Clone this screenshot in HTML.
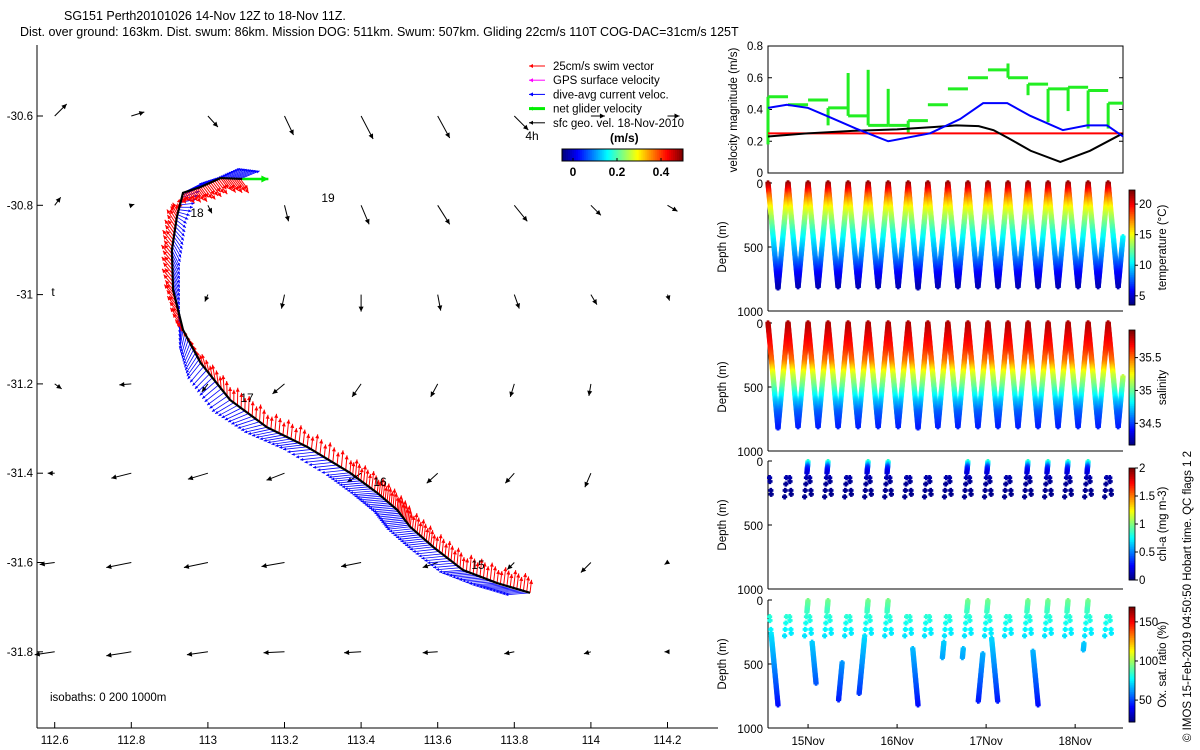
<!DOCTYPE html>
<html><head><meta charset="utf-8"><style>
body{margin:0;background:#fff}
svg{display:block;font-family:"Liberation Sans",sans-serif}
</style></head><body>
<svg id="s" width="1200" height="750" viewBox="0 0 1200 750">
<text x="64" y="20" font-size="12.5">SG151 Perth20101026 14-Nov 12Z to 18-Nov 11Z.</text>
<text x="20" y="36" font-size="12.5">Dist. over ground: 163km. Dist. swum: 86km. Mission DOG: 511km. Swum: 507km. Gliding 22cm/s 110T COG-DAC=31cm/s 125T</text>
<g id="map"></g>
<g id="right"></g>
<text transform="translate(1191,742) rotate(-90)" font-size="11.5">© IMOS 15-Feb-2019 04:50:50 Hobart time. QC flags 1  2</text>
</svg>
<script>
// ---------- MAP DATA ----------
const lonTicks=[112.6,112.8,113,113.2,113.4,113.6,113.8,114,114.2];
const latTicks=[-30.6,-30.8,-31,-31.2,-31.4,-31.6,-31.8];
const trackLon=[113.841,113.755,113.666,113.588,113.528,113.494,113.442,113.371,113.259,113.154,113.058,112.981,112.935,112.909,112.906,112.919,112.935,112.981,113.033,113.090];
const trackLat=[-31.668,-31.646,-31.617,-31.565,-31.520,-31.482,-31.444,-31.399,-31.341,-31.297,-31.236,-31.153,-31.079,-30.989,-30.900,-30.826,-30.772,-30.759,-30.739,-30.741];
const curU=[-0.38,-0.38,-0.37,-0.36,-0.36,-0.37,-0.38,-0.37,-0.37,-0.35,-0.28,-0.2,-0.05,0.1,0.12,0.15,0.3,0.3,0.3,0.3];
const curV=[-0.03,-0.03,-0.03,-0.04,-0.04,-0.03,-0.03,-0.04,-0.04,-0.08,-0.18,-0.25,-0.3,-0.3,-0.25,-0.1,0.15,0.15,0.15,0.12];
const swimU=[0.03,0.03,0.02,0.03,0.03,0.02,0.03,0.02,0.03,0.02,0.0,-0.08,-0.15,-0.15,-0.15,-0.12,0.1,0.15,0.15,0.15];
const swimV=[0.25,0.25,0.25,0.24,0.25,0.25,0.25,0.24,0.25,0.24,0.25,0.22,0.2,0.18,0.18,0.2,-0.15,-0.2,-0.2,-0.2];
const geoLat=[-30.6,-30.8,-31,-31.2,-31.4,-31.6,-31.8];
const geoLon=[112.6,112.8,113,113.2,113.4,113.6,113.8,114,114.2];
const geoU=[[12,13,10,9,12,12,14,14,12],[6,3,4,4,8,12,13,10,10],[1,1,-3,-3,0,3,5,6,2],[7,-12,-6,-12,-9,-7,-4,-2,0],[-7,-20,-20,-18,-14,-11,-9,-6,0],[-15,-25,-24,-23,-20,-15,-7,-10,-3],[-20,-25,-21,-21,-17,-15,-10,-7,-3]];
const geoV=[[12,4,-11,-19,-23,-22,-14,0,0],[8,1,-8,-16,-19,-19,-16,-10,-6],[0,0,-7,-14,-17,-16,-14,-10,-6],[-5,-1,-8,-10,-13,-13,-13,-12,0],[0,-5,-6,-7,-9,-10,-10,-14,0],[-2,-5,-5,-4,-4,-5,-7,-10,-2],[-3,-4,-3,-1,-1,-1,-2,-2,0]];
const cbTicks=[0,0.2,0.4];
// ---------- TIMESERIES DATA ----------
const diveStart=[13.2,18.6,24.0,29.4,34.8,40.2,45.6,51.0,56.3,61.7,67.1,72.5,77.9,83.3,88.7,94.1,99.5,104.9];
const diveMaxDepth=[820,815,815,818,812,815,812,822,818,815,818,815,812,818,812,815,815,812];
const greenVals=[0.48,0.43,0.46,0.41,0.36,0.30,0.30,0.33,0.43,0.53,0.60,0.65,0.60,0.56,0.53,0.54,0.52,0.44];
const greenSpike=[0.18,0.43,0.46,0.30,0.63,0.65,0.53,0.25,0.43,0.53,0.60,0.65,0.69,0.49,0.32,0.39,0.28,0.28];
const blackH=[13.2,24,36,48,58,64,70,74,78,84,92,100,108.9];
const blackV=[0.23,0.25,0.265,0.275,0.29,0.30,0.295,0.27,0.22,0.14,0.07,0.14,0.25];
const blueH=[13.2,18.3,24,30,36.9,45.6,56.9,65,71.2,77.7,83.9,92.7,99.2,104.6,108.9];
const blueV=[0.41,0.43,0.41,0.35,0.28,0.20,0.25,0.34,0.44,0.44,0.36,0.27,0.30,0.30,0.23];
const swimSpeed=[0.25];
const tempDepth=[0,50,100,150,200,300,400,500,600,700,850];
const tempVal=[22,20,18,16.5,15,13,11,9.5,8,6,4];
const salDepth=[0,100,200,300,400,500,600,700,850];
const salVal=[35.85,35.75,35.65,35.5,35.2,35.0,34.75,34.55,34.4];
const chlDepth=[0,50,100,150,300];
const chlVal=[0.9,0.35,0.15,0.05,0.02];
const sparseDepths=[130,180,230,280];
const denseDives=[1,2,4,5,9,10,12,13,14,15,17];
const oxDepth=[0,100,200,300,500,700,850];
const oxVal=[95,85,78,72,62,50,40];
const oxDeepDive=[0,2,3,4,7,8,9,10,11,13,15];
const oxDeepPhase=[0,0,1,1,0,1,1,1,0,0,1];
const oxDeepTop=[280,330,490,300,380,330,380,420,300,400,340];
const oxDeepBot=[820,650,780,730,820,450,450,790,790,820,390];
const dayTicks=[24,48,72,96];
const dayLabels=['15Nov','16Nov','17Nov','18Nov'];

const NS='http://www.w3.org/2000/svg';
function el(tag,attrs,parent){const e=document.createElementNS(NS,tag);for(const k in attrs)e.setAttribute(k,attrs[k]);parent.appendChild(e);return e;}
function jet(t){t=Math.max(0,Math.min(1,t));const c=v=>Math.round(255*Math.max(0,Math.min(1,1.5-Math.abs(v))));return `rgb(${c(4*t-3)},${c(4*t-2)},${c(4*t-1)})`;}
function interp(xs,ys,x){if(x<=xs[0])return ys[0];for(let i=1;i<xs.length;i++){if(x<=xs[i]){const f=(x-xs[i-1])/(xs[i]-xs[i-1]);return ys[i-1]+f*(ys[i]-ys[i-1]);}}return ys[ys.length-1];}

// ---------- MAP ----------
const map=document.getElementById('map');
const X=lon=>54.7+(lon-112.6)*383;
const Y=lat=>116+(-30.6-lat)*446.5;
el('line',{x1:37,y1:45,x2:37,y2:728,stroke:'#000'},map);
el('line',{x1:37,y1:728,x2:718,y2:728,stroke:'#000'},map);
lonTicks.forEach(v=>{const x=X(v);el('line',{x1:x,y1:728,x2:x,y2:722,stroke:'#000'},map);
 const t=el('text',{x:x,y:744,'font-size':11.5,'text-anchor':'middle'},map);t.textContent=String(v);
 });
latTicks.forEach(v=>{const y=Y(v);el('line',{x1:37,y1:y,x2:43,y2:y,stroke:'#000'},map);
 const t=el('text',{x:33,y:y+4,'font-size':11.5,'text-anchor':'end'},map);t.textContent=String(v);
 });
function arrow(g,x1,y1,x2,y2,col,w,h){el('line',{x1,y1,x2,y2,stroke:col,'stroke-width':w},g);
 const dx=x2-x1,dy=y2-y1,L=Math.hypot(dx,dy)||1,ux=dx/L,uy=dy/L;
 el('polygon',{points:`${x2},${y2} ${x2-ux*h-uy*h*0.5},${y2-uy*h+ux*h*0.5} ${x2-ux*h+uy*h*0.5},${y2-uy*h-ux*h*0.5}`,fill:col},g);}
const geo=el('g',{},map);
geoLat.forEach((la,i)=>geoLon.forEach((lo,j)=>{const u=geoU[i][j],v=geoV[i][j];if(Math.hypot(u,v)<1.5)return;
 const x=X(lo),y=Y(la);arrow(geo,x,y,x+u,y-v,'#000',1,5);}));
const blue=el('g',{},map);
const red=el('g',{},map);
const S=65,sub=10;
for(let i=0;i<trackLon.length-1;i++){for(let k=0;k<sub;k++){const f=k/sub;
 const lo=trackLon[i]+f*(trackLon[i+1]-trackLon[i]),la=trackLat[i]+f*(trackLat[i+1]-trackLat[i]);
 const cu=curU[i]+f*(curU[i+1]-curU[i]),cv=curV[i]+f*(curV[i+1]-curV[i]);
 const su=swimU[i]+f*(swimU[i+1]-swimU[i]),sv=swimV[i]+f*(swimV[i+1]-swimV[i]);
 const x=X(lo),y=Y(la);
 arrow(blue,x,y,x+cu*S,y-cv*S,'#0000ff',0.8,3);
 const m=0.8+0.3*(k%3)/2;
 arrow(red,x,y,x+su*S*m,y-sv*S*m,'#ff0000',1,4);}}
const tr=el('polyline',{points:trackLon.map((l,i)=>X(l)+','+Y(trackLat[i])).join(' '),fill:'none',stroke:'#000','stroke-width':2.2},map);

const n=trackLon.length-1;
const ga=el('g',{},map);
arrow(ga,X(trackLon[n]),Y(trackLat[n]),X(trackLon[n])+26,Y(trackLat[n]),'#00ee00',2.5,7);
[['18',197,217],['19',328,202],['17',247,402],['16',380,486],['15',478,569],['4h',532,140],['t',53,296]].forEach(a=>{
 const t=el('text',{x:a[1],y:a[2],'font-size':12,'text-anchor':'middle'},map);t.textContent=a[0];
 });
const iso=el('text',{x:50,y:701,'font-size':11.5},map);iso.textContent='isobaths: 0   200   1000m';iso.setAttribute('xml:space','preserve');
const legItems=[['25cm/s swim vector','#ff0000',1],['GPS surface velocity','#ff00ff',1],['dive-avg current veloc.','#0000ff',1],['net glider velocity','#00ee00',3],['sfc geo. vel. 18-Nov-2010','#000',1]];
const leg=el('g',{},map);
legItems.forEach((it,i)=>{const y=66+i*14.2;arrow(leg,545,y,529,y,it[1],it[2],4);
 const t=el('text',{x:553,y:y+4,'font-size':11.5},leg);t.textContent=it[0];});
const ut=el('text',{x:610,y:142,'font-size':12,'font-weight':'bold'},map);ut.textContent='(m/s)';
const cbx=v=>573+(v-0)*(661-573)/0.4;
for(let i=0;i<60;i++){const v0=-0.05+i*0.55/60;el('rect',{x:cbx(v0),y:149,width:cbx(0.55/60)-cbx(0)+0.5,height:12,fill:jet(i/59)},map);}
el('rect',{x:cbx(-0.05),y:149,width:cbx(0.5)-cbx(-0.05),height:12,fill:'none',stroke:'#000'},map);
cbTicks.forEach(v=>{el('line',{x1:cbx(v),y1:161,x2:cbx(v),y2:158,stroke:'#000'},map);
 const t=el('text',{x:cbx(v),y:176,'font-size':12,'font-weight':'bold','text-anchor':'middle'},map);t.textContent=String(v);});

// ---------- RIGHT PANELS ----------
const R=document.getElementById('right');
const L0=768,R0=1123,H0=13.2,H1=108.9;
const TX=h=>L0+(h-H0)*(R0-L0)/(H1-H0);
function rot(x,y,txt,name,fs){const t=el('text',{transform:`translate(${x},${y}) rotate(-90)`,'font-size':fs||11.5,'text-anchor':'middle'},R);t.textContent=txt;}
const p1T=46,p1B=173,VY=v=>p1B-v*(p1B-p1T)/0.8;
const p1=el('g',{},R);
el('rect',{x:L0,y:p1T,width:R0-L0,height:p1B-p1T,fill:'none',stroke:'#000'},p1);
[0,0.2,0.4,0.6,0.8].forEach(v=>{const y=VY(v);el('line',{x1:L0,y1:y,x2:L0+4,y2:y,stroke:'#000'},p1);el('line',{x1:R0,y1:y,x2:R0-4,y2:y,stroke:'#000'},p1);
 const t=el('text',{x:L0-5,y:y+4,'font-size':11.5,'text-anchor':'end'},p1);t.textContent=String(v);});
rot(737,110,'velocity magnitude (m/s)','velocity-y-axis-title');
const gp=el('g',{},p1);
diveStart.forEach((h,i)=>{const h2=i<diveStart.length-1?diveStart[i+1]:H1;const x1=TX(h),x2=TX(h2);
 el('line',{x1:x1,y1:VY(greenSpike[i]),x2:x1,y2:VY(greenVals[i]),stroke:'#22ee22','stroke-width':3},gp);
 el('line',{x1:x1,y1:VY(greenVals[i]),x2:x2,y2:VY(greenVals[i]),stroke:'#22ee22','stroke-width':3},gp);});
const rl=el('line',{x1:L0,y1:VY(swimSpeed[0]),x2:R0,y2:VY(swimSpeed[0]),stroke:'#ff0000','stroke-width':2},p1);
const bl=el('polyline',{points:blackH.map((h,i)=>TX(h)+','+VY(blackV[i])).join(' '),fill:'none',stroke:'#000','stroke-width':2},p1);
const bu=el('polyline',{points:blueH.map((h,i)=>TX(h)+','+VY(blueV[i])).join(' '),fill:'none',stroke:'#0000ff','stroke-width':2},p1);
const panels=[
 {T:183,B:311,name:'temperature-panel',prof:[tempDepth,tempVal],lo:3.5,hi:22.3,cbT:190,cbB:305,ticks:[5,10,15,20],lab:'temperature (°C)',mode:'full'},
 {T:323,B:451,name:'salinity-panel',prof:[salDepth,salVal],lo:34.17,hi:35.92,cbT:330,cbB:445,ticks:[34.5,35,35.5],lab:'salinity',mode:'full'},
 {T:461,B:589,name:'chlorophyll-panel',prof:[chlDepth,chlVal],lo:0,hi:2,cbT:468,cbB:580,ticks:[0,0.5,1,1.5,2],lab:'chl-a (mg m-3)',mode:'sparse'},
 {T:600,B:728,name:'oxygen-panel',prof:[oxDepth,oxVal],lo:22,hi:169,cbT:607,cbB:722,ticks:[50,100,150],lab:'Ox. sat. ratio (%)',mode:'ox'}];
panels.forEach((P,pi)=>{const g=el('g',{},R);
 const DY=d=>P.T+d*(P.B-P.T)/1000;
 el('line',{x1:L0,y1:P.T,x2:L0,y2:P.B,stroke:'#000'},g);el('line',{x1:L0,y1:P.B,x2:R0,y2:P.B,stroke:'#000'},g);
 [0,500,1000].forEach(d=>{const t=el('text',{x:L0-5,y:DY(d)+5,'font-size':11.5,'text-anchor':'end'},g);t.textContent=String(d);
  el('line',{x1:L0,y1:DY(d),x2:L0+4,y2:DY(d),stroke:'#000'},g);});
 rot(726,(P.T+P.B)/2,'Depth (m)','depth-axis-title');
 const col=d=>jet((interp(P.prof[0],P.prof[1],d)-P.lo)/(P.hi-P.lo));
 let s='';
 const pt=(h,d)=>{const x=TX(h),y=DY(d);if(x>R0)return;s+=`<path d="M${x-2.6},${y}h5.2M${x},${y-2.6}v5.2" stroke="${col(d)}" stroke-width="2.6"/>`;};
 diveStart.forEach((h,i)=>{const dur=(i<diveStart.length-1?diveStart[i+1]:h+5.39)-h,D=diveMaxDepth[i];
  const at=(d,ph)=>ph===0?h+(d/D)*dur/2:h+dur-(d/D)*dur/2;
  if(P.mode==='full'){for(let d=0;d<=D;d+=10){pt(at(d,0),d);pt(at(d,1),d);}}
  else{sparseDepths.forEach((d,k)=>{pt(at(d-(k%2)*20,0),d-(k%2)*20);pt(at(d,1),d);});
   if(denseDives.indexOf(i)>=0){for(let d=5;d<=100;d+=8)pt(at(d,1),d);}}
 });
 if(P.mode==='ox'){oxDeepDive.forEach((dv,k)=>{const h=diveStart[dv],dur=diveStart[dv+1]-h,D=diveMaxDepth[dv];
  for(let d=oxDeepTop[k];d<=oxDeepBot[k];d+=10){const hh=oxDeepPhase[k]===0?h+(d/D)*dur/2:h+dur-(d/D)*dur/2;pt(hh,d);}});}
 const pg=el('g',{},g);pg.innerHTML=s;
 for(let i=0;i<64;i++){const y=P.cbB-(i+1)*(P.cbB-P.cbT)/64;el('rect',{x:1129,y:y,width:6,height:(P.cbB-P.cbT)/64+0.5,fill:jet(i/63)},g);}
 const cb=el('rect',{x:1129,y:P.cbT,width:6,height:P.cbB-P.cbT,fill:'none',stroke:'#000','stroke-width':0.8},g);
 P.ticks.forEach(v=>{const y=P.cbB-(v-P.lo)/(P.hi-P.lo)*(P.cbB-P.cbT);el('line',{x1:1135,y1:y,x2:1138,y2:y,stroke:'#000'},g);
  const t=el('text',{x:1139,y:y+4,'font-size':11.5},g);t.textContent=String(v);});
 rot(1166,(P.cbT+P.cbB)/2,P.lab,'colorbar-title');
});
dayTicks.forEach((h,i)=>{const x=TX(h);el('line',{x1:x,y1:728,x2:x,y2:724,stroke:'#000'},R);
 const t=el('text',{x:x,y:745,'font-size':11.5,'text-anchor':'middle'},R);t.textContent=dayLabels[i];});
</script>
</body></html>
